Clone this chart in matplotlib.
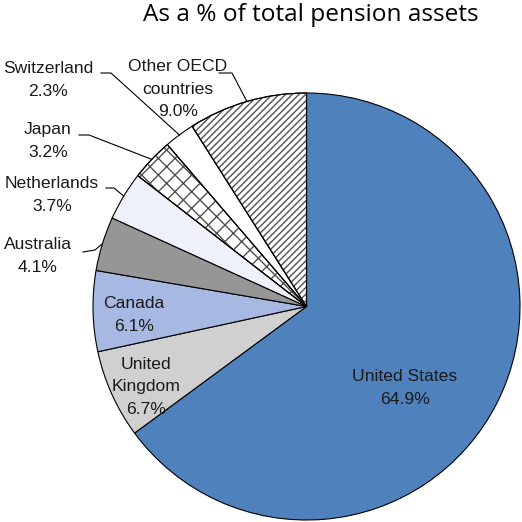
import numpy as np
import matplotlib
matplotlib.use("Agg")
import matplotlib.pyplot as plt
from matplotlib.patches import Wedge

countries = ["United States", "United\nKingdom", "Canada", "Australia",
             "Netherlands", "Japan", "Switzerland", "Other OECD\ncountries"]
shares = [64.9, 6.7, 6.1, 4.1, 3.7, 3.2, 2.3, 9.0]
title = "As a % of total pension assets"

colors = ["#4F81BD", "#D0D0D0", "#A7B9E3", "#969696", "#EEF1F9",
          "#FFFFFF", "#FFFFFF", "#FFFFFF"]
hatches = [None, None, None, None, None, "xx", None, "/////"]

W = H = 522
fig = plt.figure(figsize=(W / 100, H / 100), dpi=100)
ax = fig.add_axes([0, 0, 1, 1])

def Y(y):
    return H - y

cx, cy, R = 306.5, 306.5, 213.5
wedges, _ = ax.pie(shares, colors=colors, startangle=90, counterclock=False,
                   center=(cx, Y(cy)), radius=R,
                   wedgeprops=dict(edgecolor="black", linewidth=0.8))
ax.set_xlim(0, W)
ax.set_ylim(0, H)
ax.set_aspect("equal")
ax.axis("off")

plt.rcParams["hatch.linewidth"] = 1.0
for w, h in zip(wedges, hatches):
    if h:
        ov = Wedge(w.center, w.r, w.theta1, w.theta2, fill=False, hatch=h,
                   edgecolor="#505050", linewidth=0)
        ax.add_patch(ov)
        ol = Wedge(w.center, w.r, w.theta1, w.theta2, fill=False,
                   edgecolor="black", linewidth=0.8)
        ax.add_patch(ol)

font = dict(family="Liberation Sans", fontsize=12.6, color="#1a1a1a",
            ha="center", va="center", linespacing=1.6)

def pct(v):
    return f"{v:.1f}%"

# inside labels: (index, x, y)
inside = [(0, 405, 388), (1, 146, 387), (2, 134, 315)]
for i, x, y in inside:
    ax.text(x, Y(y), countries[i] + "\n" + pct(shares[i]), **font)

# outside labels: index, text center, leader start, elbow
outside = [
    (6, (48, 80), (101, 73), (111, 73)),
    (7, (178, 89), (219, 73), (232, 73)),
    (5, (48, 141), (79, 135), (89, 135)),
    (4, (52, 195), (106, 188), (114, 188)),
    (3, (38, 256), (83, 252), (95, 250)),
]
for i, (tx, ty), (sx, sy), (ex, ey) in outside:
    ax.text(tx, Y(ty), countries[i] + "\n" + pct(shares[i]), **font)
    w = wedges[i]
    mid = np.deg2rad((w.theta1 + w.theta2) / 2)
    px = w.center[0] + w.r * np.cos(mid)
    py = w.center[1] + w.r * np.sin(mid)
    ax.plot([sx, ex, px], [Y(sy), Y(ey), py], color="black", lw=0.8)

ax.text(311, Y(15), title, family="Open Sans", fontsize=17.6,
        ha="center", va="center", color="black")

fig.savefig("out.png", dpi=100)
